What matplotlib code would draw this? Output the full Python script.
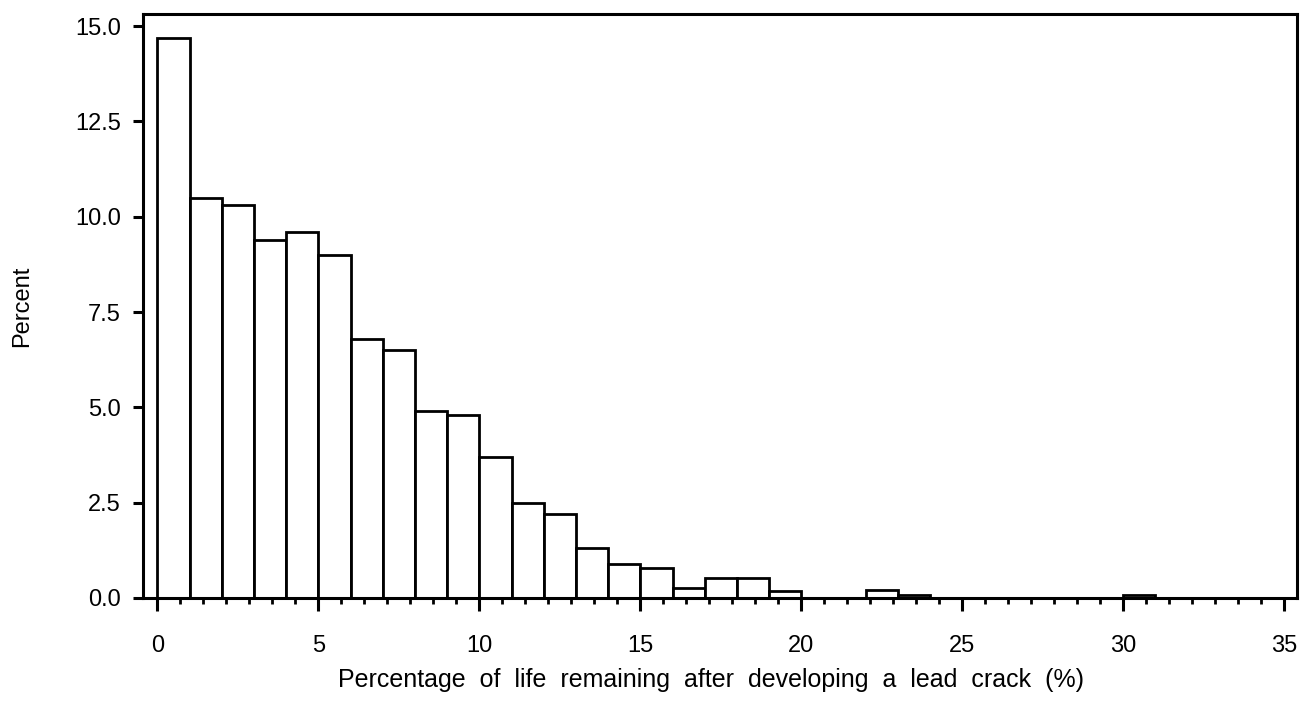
import matplotlib
matplotlib.use("Agg")
import matplotlib.pyplot as plt
from matplotlib.ticker import MultipleLocator, FixedLocator, FormatStrFormatter

# Histogram data: bins of width 1 (% of life remaining), heights in percent
bin_left = list(range(0, 35))
percent = [14.7, 10.5, 10.3, 9.4, 9.6, 9.0, 6.8, 6.5, 4.9, 4.8,
           3.7, 2.5, 2.2, 1.3, 0.9, 0.8, 0.25, 0.53, 0.53, 0.19,
           0.0, 0.0, 0.20, 0.08, 0.0, 0.0, 0.0, 0.0, 0.0, 0.0,
           0.09, 0.0, 0.0, 0.0, 0.0]
x_ticks = [0, 5, 10, 15, 20, 25, 30, 35]
y_ticks = [0.0, 2.5, 5.0, 7.5, 10.0, 12.5, 15.0]
x_label = "Percentage  of  life  remaining  after  developing  a  lead  crack  (%)"
y_label = "Percent"

plt.rcParams['font.family'] = ['Liberation Sans', 'DejaVu Sans']

W, H = 1315, 707
fig = plt.figure(figsize=(W / 100, H / 100), dpi=100)
L, R, T, B = 143, 1297, 14, 598
ax = fig.add_axes([L / W, 1 - B / H, (R - L) / W, (B - T) / H])

heights = [p if p > 0 else 0 for p in percent]
ax.bar(bin_left, heights, width=1.0, align='edge', facecolor='white',
       edgecolor='black', linewidth=2.0, zorder=2)

ax.set_xlim(-0.45, 35.4)
ax.set_ylim(0, 15.32)

for s in ax.spines.values():
    s.set_linewidth(2.2)
    s.set_color('black')
    s.set_zorder(3)

ax.xaxis.set_major_locator(FixedLocator(x_ticks))
ax.xaxis.set_minor_locator(MultipleLocator(5 / 7))
ax.yaxis.set_major_locator(FixedLocator(y_ticks))
ax.yaxis.set_major_formatter(FormatStrFormatter('%.1f'))

ax.tick_params(axis='x', which='major', direction='out', length=9, width=2.2,
               labelsize=17, pad=18)
ax.tick_params(axis='x', which='minor', direction='out', length=4.5, width=2.0)
ax.tick_params(axis='y', which='major', direction='out', length=7, width=2.2,
               labelsize=17, pad=9)
ax.tick_params(top=False, right=False)

fig.text(338 / W, 1 - 687 / H, x_label, ha='left', va='baseline', fontsize=18)
fig.text(22 / W, 1 - 306 / H, y_label, ha='center', va='center', rotation=90,
         fontsize=17)

fig.savefig("out.png", dpi=100)
